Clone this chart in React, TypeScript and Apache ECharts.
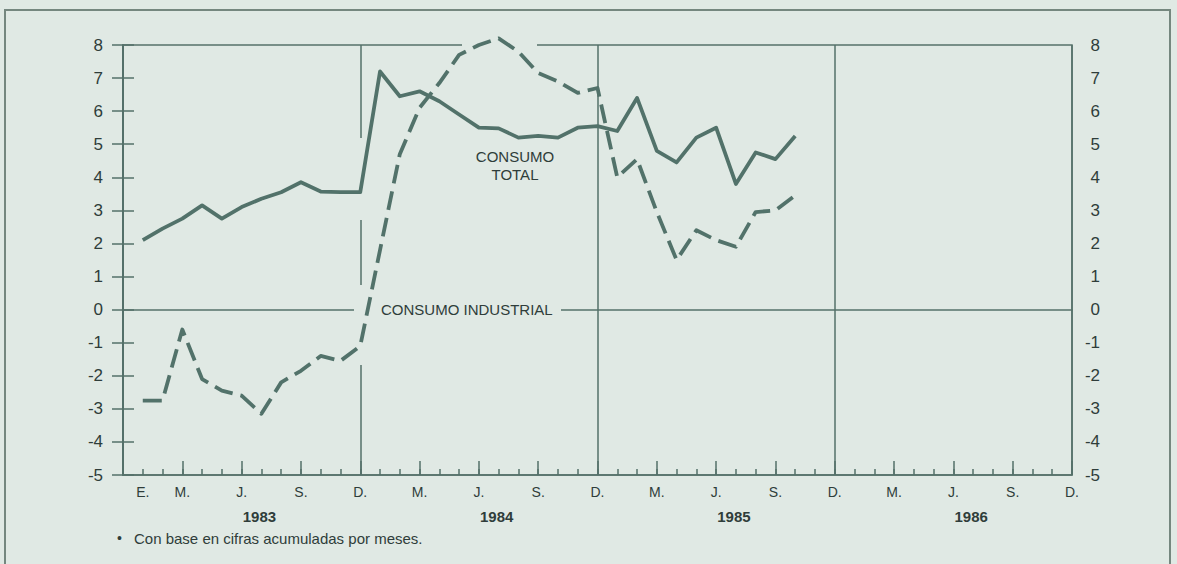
import React, { useEffect, useRef } from "react";
import * as echarts from "echarts";

// ---- data ----
const years = ["1983", "1984", "1985", "1986"];
const monthTickIndex = [1, 3, 6, 9, 12, 15, 18, 21, 24, 27, 30, 33, 36, 39, 42, 45, 48];
const monthTickLabels = ["E.", "M.", "J.", "S.", "D.", "M.", "J.", "S.", "D.", "M.", "J.", "S.", "D.", "M.", "J.", "S.", "D."];
const yTicks = [-5, -4, -3, -2, -1, 0, 1, 2, 3, 4, 5, 6, 7, 8];
// monthly values, Jan 1983 .. Oct 1985
const consumoTotal = [
  2.1, 2.45, 2.75, 3.15, 2.75, 3.1, 3.35, 3.55, 3.85, 3.57, 3.55, 3.55,
  7.2, 6.45, 6.6, 6.3, 5.9, 5.5, 5.48, 5.2, 5.25, 5.2, 5.5, 5.55,
  5.4, 6.4, 4.8, 4.45, 5.2, 5.5, 3.8, 4.75, 4.55, 5.25,
];
const consumoIndustrial = [
  -2.75, -2.75, -0.6, -2.1, -2.45, -2.6, -3.15, -2.2, -1.85, -1.4, -1.55, -1.1,
  1.8, 4.7, 6.1, 6.85, 7.7, 8.0, 8.2, 7.8, 7.15, 6.9, 6.55, 6.7,
  4.0, 4.55, 2.95, 1.5, 2.4, 2.1, 1.9, 2.95, 3.0, 3.45,
];
const firstMonthIndex = 1; // Jan 1983 (index 0 = Dec 1982)

const BG = "#e0e9e4";
const LINE = "#52726a";
const AXIS = "#55716a";
const TEXT = "#2f3d3a";
const FONT = '"Liberation Sans", Arial, Helvetica, sans-serif';

export default function App() {
  const ref = useRef<HTMLDivElement>(null);

  useEffect(() => {
    document.body.style.margin = "0";
    document.body.style.background = BG;
    const chart = echarts.init(ref.current!, null, { renderer: "svg" });

    const L = 123, T = 45, W = 949, H = 430;
    const yMin = -5, yMax = 8;
    const zeroY = T + (yMax / (yMax - yMin)) * H;

    const labelMap: Record<number, string> = {};
    monthTickIndex.forEach((m, i) => (labelMap[m] = monthTickLabels[i]));

    const toData = (vals: number[]) => vals.map((v, i) => [i + firstMonthIndex, v]);

    const axisLineStyle = { color: AXIS, width: 1.5 };

    const baseX = {
      type: "value" as const,
      min: 0,
      max: 48,
      position: "bottom" as const,
      splitLine: { show: false },
    };

    const option: any = {
      animation: false,
      backgroundColor: BG,
      textStyle: { fontFamily: FONT },
      grid: {
        left: L,
        top: T,
        width: W,
        height: H,
        show: true,
        borderColor: AXIS,
        borderWidth: 1.5,
        backgroundColor: "transparent",
        outerBoundsMode: "none",
      },
      xAxis: [
        {
          ...baseX,
          interval: 1,
          axisLine: { show: true, onZero: false, lineStyle: axisLineStyle },
          axisTick: { show: true, inside: true, length: 6, lineStyle: axisLineStyle },
          axisLabel: {
            show: true,
            showMinLabel: true,
            showMaxLabel: true,
            margin: 10,
            fontSize: 14,
            color: TEXT,
            fontFamily: FONT,
            formatter: (v: number) => labelMap[v] ?? "",
          },
        },
        {
          ...baseX,
          interval: 3,
          axisLine: { show: false, onZero: false },
          axisTick: { show: true, inside: true, length: 14, lineStyle: axisLineStyle },
          axisLabel: { show: false },
        },
        {
          ...baseX,
          interval: 12,
          axisLine: { show: false, onZero: false },
          axisTick: { show: false },
          axisLabel: {
            show: true,
            customValues: years.map((_, i) => i * 12 + 6.9),
            formatter: (v: number) => years[Math.floor(v / 12)] ?? "",
            margin: 34,
            fontSize: 15,
            fontWeight: "bold",
            color: TEXT,
            fontFamily: FONT,
          },
          splitLine: { show: true, lineStyle: { color: AXIS, width: 1.5 } },
        },
        {
          ...baseX,
          interval: 12,
          axisLine: { show: true, onZero: true, lineStyle: axisLineStyle },
          axisTick: { show: false },
          axisLabel: { show: false },
        },
      ],
      yAxis: [
        {
          type: "value",
          position: "left",
          min: yMin,
          max: yMax,
          interval: 1,
          axisLine: { show: true, lineStyle: axisLineStyle },
          axisTick: { show: true, inside: true, length: 11, lineStyle: axisLineStyle },
          axisLabel: {
            margin: 20,
            fontSize: 17,
            color: TEXT,
            fontFamily: FONT,
            formatter: (v: number) => (yTicks.includes(v) ? String(v) : ""),
          },
          splitLine: { show: false },
        },
        {
          type: "value",
          position: "right",
          min: yMin,
          max: yMax,
          interval: 1,
          axisLine: { show: true, lineStyle: axisLineStyle },
          axisTick: { show: true, inside: true, length: 11, lineStyle: axisLineStyle },
          axisLabel: {
            margin: 28,
            align: "right",
            fontSize: 17,
            color: TEXT,
            fontFamily: FONT,
            formatter: (v: number) => (yTicks.includes(v) ? String(v) : ""),
          },
          splitLine: { show: false },
        },
      ],
      series: [
        {
          name: "CONSUMO TOTAL",
          type: "line",
          xAxisIndex: 0,
          yAxisIndex: 0,
          data: toData(consumoTotal),
          symbol: "none",
          clip: false,
          z: 3,
          lineStyle: { color: LINE, width: 3.8, join: "round" },
        },
        {
          name: "CONSUMO INDUSTRIAL",
          type: "line",
          xAxisIndex: 0,
          yAxisIndex: 0,
          data: toData(consumoIndustrial),
          symbol: "none",
          clip: false,
          z: 3,
          lineStyle: { color: LINE, width: 3.8, type: [19, 8], join: "round" },
        },
      ],
      graphic: [
        {
          type: "rect",
          silent: true,
          z: 0,
          shape: { x: 5, y: 10, width: 1165, height: 600 },
          style: { fill: "none", stroke: "#75877f", lineWidth: 2 },
        },
        // gaps in the reference's rules where lines cross
        { type: "rect", silent: true, z: 1, shape: { x: 354, y: zeroY - 4, width: 207, height: 8 }, style: { fill: BG } },
        { type: "rect", silent: true, z: 1, shape: { x: 462, y: T - 3, width: 75, height: 6 }, style: { fill: BG } },
        { type: "rect", silent: true, z: 1, shape: { x: 358, y: 138, width: 6, height: 82 }, style: { fill: BG } },
        { type: "rect", silent: true, z: 1, shape: { x: 358, y: 285, width: 6, height: 80 }, style: { fill: BG } },
        {
          type: "text",
          silent: true,
          z: 2,
          style: {
            x: 381,
            y: zeroY,
            text: "CONSUMO INDUSTRIAL",
            fill: TEXT,
            font: `15px ${FONT}`,
            textAlign: "left",
            verticalAlign: "middle",
          },
        },
        {
          type: "text",
          silent: true,
          z: 2,
          style: {
            x: 515,
            y: 165,
            text: "CONSUMO\nTOTAL",
            fill: TEXT,
            font: `15px ${FONT}`,
            lineHeight: 18,
            textAlign: "center",
            verticalAlign: "middle",
          },
        },
        {
          type: "text",
          silent: true,
          z: 2,
          style: { x: 117, y: 538, text: "•", fill: TEXT, font: `14px ${FONT}`, verticalAlign: "middle" },
        },
        {
          type: "text",
          silent: true,
          z: 2,
          style: {
            x: 134,
            y: 538,
            text: "Con base en cifras acumuladas por meses.",
            fill: TEXT,
            font: `15px ${FONT}`,
            verticalAlign: "middle",
          },
        },
      ],
    };

    chart.setOption(option);
    return () => chart.dispose();
  }, []);

  return <div ref={ref} style={{ width: 1177, height: 564, background: BG }} />;
}
